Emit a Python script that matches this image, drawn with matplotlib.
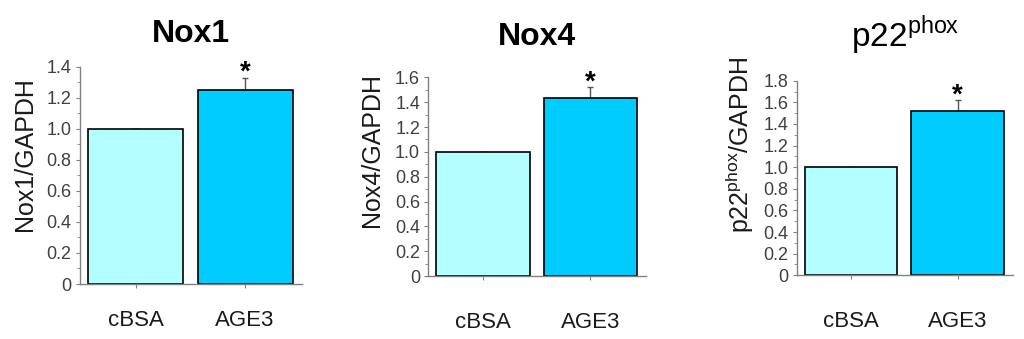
import matplotlib
matplotlib.use("Agg")
import matplotlib.pyplot as plt
from matplotlib.ticker import MultipleLocator, FuncFormatter

plt.rcParams['font.family'] = ['Liberation Sans', 'DejaVu Sans']
plt.rcParams['mathtext.fontset'] = 'custom'
plt.rcParams['mathtext.rm'] = 'Liberation Sans'
plt.rcParams['mathtext.bf'] = 'Liberation Sans:bold'

groups = ['cBSA', 'AGE3']
bar_colors = ['#b3ffff', '#00ccff']

nox1 = [1.0, 1.25]
nox1_err = [0.0, 0.08]
nox4 = [1.0, 1.43]
nox4_err = [0.0, 0.09]
p22 = [1.0, 1.52]
p22_err = [0.0, 0.10]

panels = [
    # title, weight, size, ylabel, values, errors, ymax, axes rect, ylabel x/y, title y, xtick pad
    ('Nox1', 'bold', 23, 'Nox1/GAPDH', nox1, nox1_err, 1.4,
     [0.0781, 0.1622, 0.2168, 0.641], (-0.195, 0.598), 1.114, 16),
    ('Nox4', 'bold', 23, 'Nox4/GAPDH', nox4, nox4_err, 1.6,
     [0.4183, 0.1858, 0.2126, 0.586], (-0.205, 0.634), 1.163, 23),
    (r'p22$^{\mathrm{phox}}$', 'normal', 24, r'p22$^{\mathrm{phox}}$/GAPDH', p22, p22_err, 1.8,
     [0.778, 0.1879, 0.2112, 0.574], (-0.19, 0.67), 1.175, 23),
]

fig = plt.figure(figsize=(10.24, 3.39), dpi=100)

for title, tweight, tsize, ylab, vals, errs, ymax, rect, lab_xy, title_y, xpad in panels:
    ax = fig.add_axes(rect)
    x = [0, 1]
    ax.bar(x, vals, width=0.87, color=bar_colors, edgecolor='black', linewidth=1.2, zorder=2)
    # upper error bar only
    ax.errorbar(x, vals, yerr=[[0, 0], errs], fmt='none', ecolor='#555555',
                elinewidth=1.0, capsize=2, capthick=1.0, zorder=1)
    ax.annotate('*', (1, vals[1] + errs[1]), xytext=(0, -6), textcoords='offset points',
                ha='center', va='bottom', fontsize=20, fontweight='bold')

    ax.set_xlim(-0.51, 1.52)
    ax.set_ylim(0, ymax)
    ax.yaxis.set_major_locator(MultipleLocator(0.2))
    ax.yaxis.set_minor_locator(MultipleLocator(0.1))
    ax.yaxis.set_major_formatter(FuncFormatter(lambda v, p: '0' if abs(v) < 1e-9 else '%.1f' % v))
    ax.set_xticks(x)
    ax.set_xticklabels(groups)

    for side in ['top', 'right']:
        ax.spines[side].set_visible(False)
    for side in ['left', 'bottom']:
        ax.spines[side].set_color('#808080')
        ax.spines[side].set_linewidth(1.0)

    ax.tick_params(axis='y', which='major', direction='out', length=3, width=0.8,
                   color='#808080', labelsize=13, labelcolor='#404040', pad=3)
    ax.tick_params(axis='y', which='minor', direction='out', length=2, width=0.6,
                   color='#808080')
    ax.tick_params(axis='x', which='major', direction='out', length=3, width=0.8,
                   color='#808080', labelsize=16, labelcolor='#1a1a1a', pad=xpad)

    ax.set_ylabel(ylab, fontsize=18, color='#1a1a1a')
    ax.yaxis.set_label_coords(lab_xy[0], lab_xy[1])

    ax.text(0.5, title_y, title, transform=ax.transAxes, ha='center', va='baseline',
            fontsize=tsize, fontweight=tweight)

fig.savefig('out.png', dpi=100)
